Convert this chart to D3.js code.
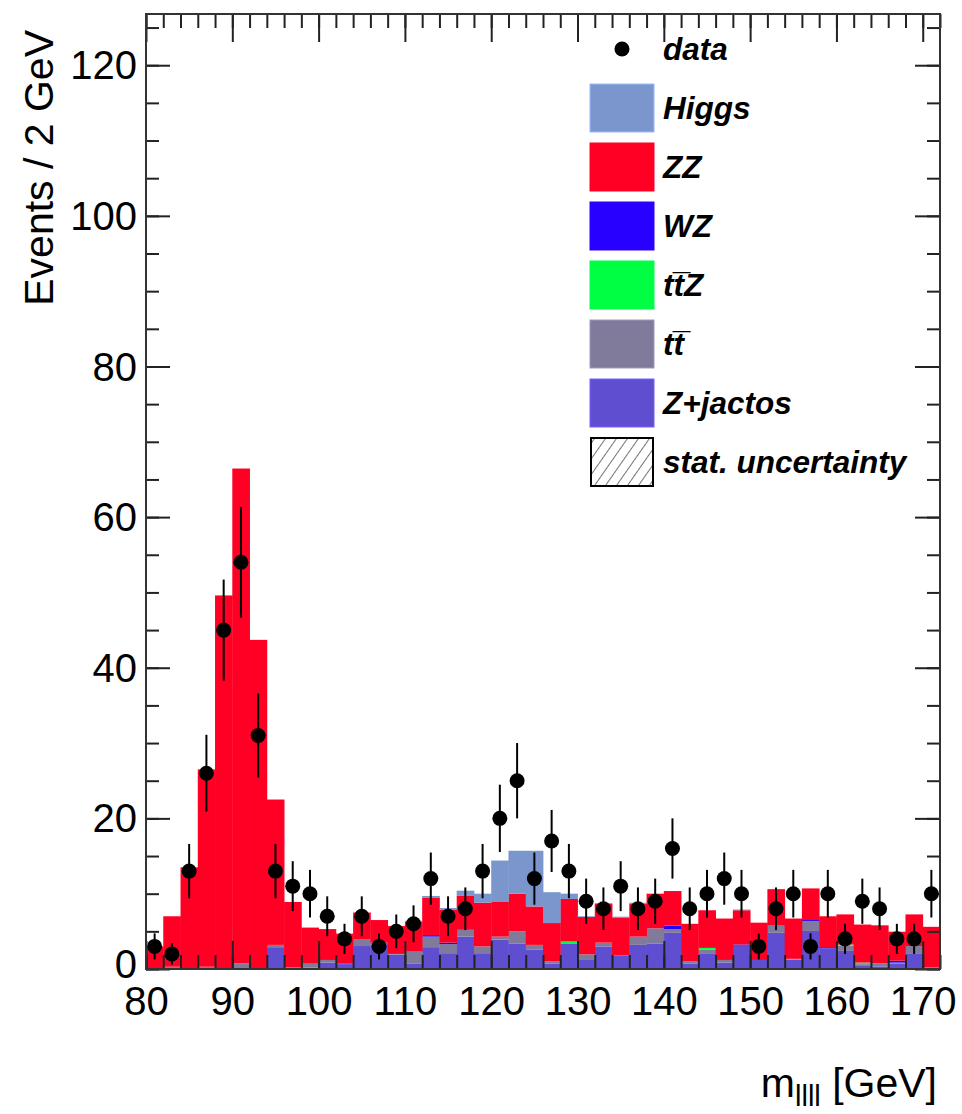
<!DOCTYPE html>
<html><head><meta charset="utf-8">
<script src="https://cdn.jsdelivr.net/npm/d3@7"></script>
<style>body{margin:0;background:#fff}svg{display:block}</style>
</head><body><svg id="c" width="962" height="1114"></svg>
<script>
// ---- data (bins of 2 GeV from 80 to 172) ----
const binLow = [80,82,84,86,88,90,92,94,96,98,100,102,104,106,108,110,112,114,116,118,120,122,124,126,128,130,132,134,136,138,140,142,144,146,148,150,152,154,156,158,160,162,164,166,168,170];
const dataCounts = [3,2,13,26,45,54,31,13,11,10,7,4,7,3,5,6,12,7,8,13,20,25,12,17,13,9,8,11,8,9,16,8,10,12,10,3,8,10,3,10,4,9,8,4,4,10];
const zjets = [0,0,0,0,0,0,0,2.9,0,0.2,0.85,0.6,3.05,3.3,1.9,0.75,2.9,2.1,4.3,2.1,3.9,3.4,2.6,0.7,3.4,1.3,3.0,1.8,3.2,3.4,4.8,0.7,2.0,0.85,3.1,1.2,4.8,1.2,5.05,2.75,2.4,0.5,0.35,0.7,2.0,0.1];
const ttbar = [0,0.3,0.1,0.3,0.1,0.75,0.1,0.3,0.2,0.5,0.35,0,0.85,0.1,0.1,1.55,1.4,1.2,0.9,0.9,0.4,1.6,0.6,0.3,0,0.65,0.5,0,1.1,2.0,0.5,0.3,0.6,0.35,0,0,0.95,0,1.3,0,0.7,0.15,0.4,0.15,1.05,0.1];
const ttz = [0,0,0,0,0,0,0,0,0,0,0,0,0,0,0,0,0,0,0,0,0,0,0,0,0.25,0,0,0,0,0,0,0,0.2,0,0,0,0,0.15,0,0,0.15,0.2,0,0,0,0];
const wz = [0,0,0,0,0,0,0,0,0,0,0,0.1,0,0.1,0,0,0.2,0.2,0,0,0,0,0,0,0,0,0,0,0,0,0.45,0,0,0,0.15,0,0,0,0.15,0.15,0,0,0,0.25,0,0];
const zz = [3.0,6.7,13.4,26.2,49.5,65.7,43.6,19.3,8.7,4.8,4.1,4.0,3.6,3.0,3.7,4.0,5.0,4.4,4.5,5.8,4.6,5.0,5.1,5.1,5.65,4.95,5.2,5.05,4.4,4.6,4.6,5.0,5.0,5.5,4.55,4.95,4.85,5.35,4.2,4.1,4.0,5.05,5.05,3.85,4.2,5.4];
const higgs = [0,0,0,0,0,0,0,0,0,0,0,0,0,0,0,0.1,0.2,0.2,0.7,1.2,5.5,5.7,7.4,4.1,0.7,0.1,0,0.1,0.1,0,0,0,0,0,0.1,0,0,0,0,0,0,0,0,0,0,0];
const seriesKeys = ["zjets","ttbar","ttz","wz","zz","higgs"];
const seriesColors = {zjets:"#604ed0",ttbar:"#807b9a",ttz:"#00ff42",wz:"#2800ff",zz:"#ff0024",higgs:"#7b96cc"};
const legendItems = [
  {label:"data",type:"marker"},
  {label:"Higgs",key:"higgs"},
  {label:"ZZ",key:"zz"},
  {label:"WZ",key:"wz"},
  {label:"tt\u0305Z",key:"ttz"},
  {label:"tt\u0305",key:"ttbar"},
  {label:"Z+jactos",key:"zjets"},
  {label:"stat. uncertainty",type:"hatch"}
];
const xTicks = [80,90,100,110,120,130,140,150,160,170];
const yTicks = [0,20,40,60,80,100,120];
const binWidth = 2;

// ---- layout ----
const svg = d3.select("#c");
const L=146,R=940,T=14,B=969;
const x = d3.scaleLinear().domain([80,172]).range([L,R]);
const y = d3.scaleLinear().domain([0,126.8]).range([B,T]);
const FONT = "Liberation Sans, Arial, sans-serif";

const rows = binLow.map((b,i)=>({b,zjets:zjets[i],ttbar:ttbar[i],ttz:ttz[i],wz:wz[i],zz:zz[i],higgs:higgs[i]}));
const stacked = d3.stack().keys(seriesKeys)(rows);

const defs = svg.append("defs");
const pat = defs.append("pattern").attr("id","hatch").attr("patternUnits","userSpaceOnUse")
  .attr("width",9).attr("height",9).attr("patternTransform","rotate(35)");
pat.append("line").attr("x1",0).attr("y1",0).attr("x2",0).attr("y2",9).attr("stroke","#000").attr("stroke-width",1.1);

const gH = svg.append("g");
stacked.forEach(s=>{
  gH.selectAll(null).data(s).enter().append("rect")
    .attr("x",d=>x(d.data.b))
    .attr("width",d=>x(d.data.b+binWidth)-x(d.data.b)+0.4)
    .attr("y",d=>y(d[1]))
    .attr("height",d=>Math.max(0,y(d[0])-y(d[1])))
    .attr("fill",seriesColors[s.key]);
});

// ticks (inward, all four sides)
const minorX = d3.range(80,173,2), minorY = d3.range(0,127,5);
function ax(gen, tr){ const g=svg.append("g").attr("transform",tr).call(gen); g.select(".domain").remove(); g.selectAll("line").attr("stroke","#222").attr("stroke-width",2); return g; }
ax(d3.axisBottom(x).tickValues(minorX).tickSize(-14).tickFormat(""),`translate(0,${B})`);
ax(d3.axisTop(x).tickValues(minorX).tickSize(-14).tickFormat(""),`translate(0,${T})`);
ax(d3.axisLeft(y).tickValues(minorY).tickSize(-13).tickFormat(""),`translate(${L},0)`);
ax(d3.axisRight(y).tickValues(minorY).tickSize(-13).tickFormat(""),`translate(${R},0)`);
const xa = ax(d3.axisBottom(x).tickValues(xTicks).tickSize(-28).tickFormat(d3.format("d")),`translate(0,${B})`);
ax(d3.axisTop(x).tickValues(xTicks).tickSize(-28).tickFormat(""),`translate(0,${T})`);
const ya = ax(d3.axisLeft(y).tickValues(yTicks).tickSize(-24).tickFormat(d3.format("d")),`translate(${L},0)`);
ax(d3.axisRight(y).tickValues(yTicks).tickSize(-25).tickFormat(""),`translate(${R},0)`);
xa.selectAll("text").attr("font-family",FONT).attr("font-size",40).attr("fill","#000").attr("dy","0.72em").attr("y",17);
ya.selectAll("text").attr("font-family",FONT).attr("font-size",40).attr("fill","#000").attr("x",-9).attr("dy","0.34em");
ya.selectAll("text").filter(d=>d===0).attr("dy","0.2em");

// frame
svg.append("rect").attr("x",L).attr("y",T).attr("width",R-L).attr("height",B-T).attr("fill","none").attr("stroke","#333").attr("stroke-width",2);

// data points (error = sqrt(N))
const gD = svg.append("g");
gD.selectAll("line").data(dataCounts).enter().append("line")
  .attr("x1",(d,i)=>x(binLow[i]+1)).attr("x2",(d,i)=>x(binLow[i]+1))
  .attr("y1",d=>y(d+Math.sqrt(d))).attr("y2",d=>y(Math.max(0,d-Math.sqrt(d))))
  .attr("stroke","#000").attr("stroke-width",2);
gD.selectAll("circle").data(dataCounts).enter().append("circle")
  .attr("cx",(d,i)=>x(binLow[i]+1)).attr("cy",d=>y(d)).attr("r",7.5).attr("fill","#000");

// axis titles
svg.append("text").attr("transform","translate(53,30) rotate(-90)").attr("text-anchor","end")
  .attr("font-family",FONT).attr("font-size",41).text("Events / 2 GeV");
const xt = svg.append("text").attr("x",937).attr("y",1097).attr("text-anchor","end")
  .attr("font-family",FONT).attr("font-size",41);
xt.append("tspan").text("m");
xt.append("tspan").attr("font-size",29).attr("dy",9).text("llll");
xt.append("tspan").attr("dy",-9).text(" [GeV]");

// legend
const lg = svg.append("g");
const boxX=590, boxW=64, boxH=48, step=59, top0=25;
legendItems.forEach((it,i)=>{
  const yy = top0 + i*step;
  if(it.type==="marker"){
    lg.append("circle").attr("cx",boxX+boxW/2).attr("cy",yy+boxH/2).attr("r",7.5).attr("fill","#000");
  } else if(it.type==="hatch"){
    lg.append("rect").attr("x",boxX+1).attr("y",yy).attr("width",boxW-2).attr("height",boxH).attr("fill","url(#hatch)").attr("stroke","#000").attr("stroke-width",2);
  } else {
    lg.append("rect").attr("x",boxX).attr("y",yy).attr("width",boxW).attr("height",boxH).attr("fill",seriesColors[it.key]).attr("stroke",d3.color(seriesColors[it.key]).brighter(0.6)).attr("stroke-width",1);
  }
  lg.append("text").attr("x",663).attr("y",yy+boxH/2).attr("dy","0.36em")
    .attr("font-family",FONT).attr("font-weight","bold").attr("font-style","italic")
    .attr("font-size",31.5).text(it.label);
});
</script></body></html>
